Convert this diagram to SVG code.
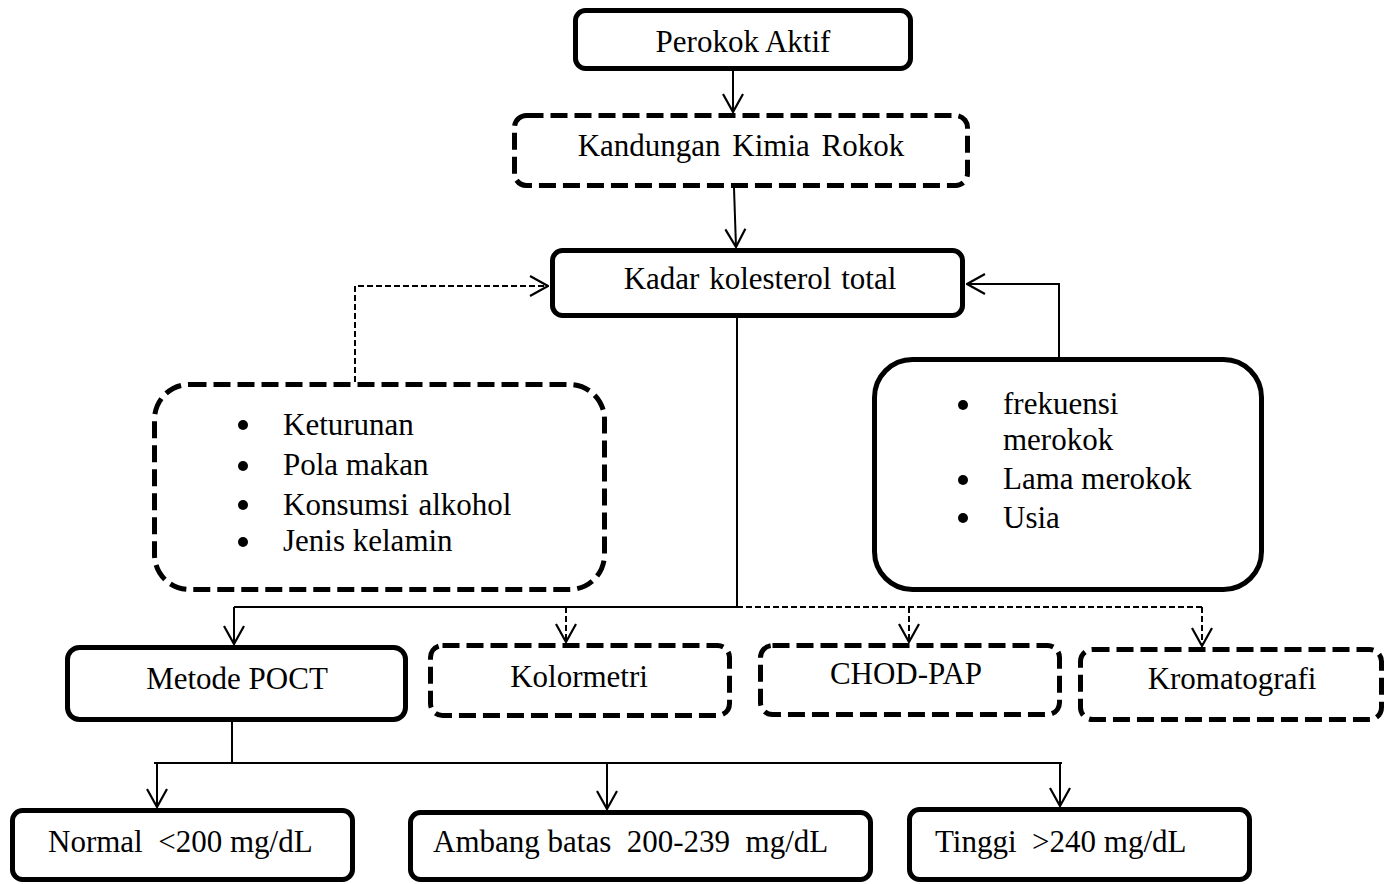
<svg xmlns="http://www.w3.org/2000/svg" width="1393" height="884" viewBox="0 0 1393 884">
<style>
  .box{fill:#fff;stroke:#000;stroke-width:5}
  .dbox{fill:#fff;stroke:#000;stroke-width:5;stroke-dasharray:17 7}
  .ln{fill:none;stroke:#000;stroke-width:2}
  .dln{fill:none;stroke:#000;stroke-width:2;stroke-dasharray:6 3}
  text{font-family:"Liberation Serif","Times New Roman",serif;font-size:31px;fill:#000}
  .c{text-anchor:middle}
</style>
<defs>
  <marker id="arr" viewBox="0 0 20 24" refX="19" refY="12" markerWidth="20" markerHeight="24" markerUnits="userSpaceOnUse" orient="auto">
    <path d="M1,2 L19,12 L1,22" fill="none" stroke="#000" stroke-width="2.2"/>
  </marker>
</defs>
<rect width="1393" height="884" fill="#fff"/>
<g id="connectors">
  <path class="ln" d="M733,71 V112" marker-end="url(#arr)"/>
  <path class="ln" d="M734,188 L736,247" marker-end="url(#arr)"/>
  <path class="dln" d="M355,382 V286 H548" marker-end="url(#arr)"/>
  <path class="ln" d="M1059,357 V284 H967" marker-end="url(#arr)"/>
  <path class="ln" d="M737,318 V607 M234,607 H737"/>
  <path class="dln" d="M737,607 H1202"/>
  <path class="ln" d="M234,607 V644" marker-end="url(#arr)"/>
  <path class="dln" d="M566,607 V642" marker-end="url(#arr)"/>
  <path class="dln" d="M909,607 V642" marker-end="url(#arr)"/>
  <path class="dln" d="M1202,607 V646" marker-end="url(#arr)"/>
  <path class="ln" d="M232,722 V763 M154,763 H1062"/>
  <path class="ln" d="M157,763 V807" marker-end="url(#arr)"/>
  <path class="ln" d="M607,763 V809" marker-end="url(#arr)"/>
  <path class="ln" d="M1060,763 V806" marker-end="url(#arr)"/>
</g>
<g id="perokok-aktif">
  <rect class="box" x="575.5" y="10.5" width="335" height="58" rx="10"/>
  <text class="c" x="743" y="52">Perokok Aktif</text>
</g>
<g id="kandungan-kimia">
  <rect class="dbox" x="514.5" y="115.5" width="453" height="70" rx="12"/>
  <text class="c" x="741" y="156" word-spacing="4">Kandungan Kimia Rokok</text>
</g>
<g id="kadar-kolesterol">
  <rect class="box" x="552.5" y="250.5" width="410" height="65" rx="10"/>
  <text class="c" x="760" y="289" word-spacing="2">Kadar kolesterol total</text>
</g>
<g id="faktor-kiri">
  <rect class="dbox" x="154.5" y="384.5" width="450" height="205" rx="35"/>
  <circle cx="243" cy="425" r="5"/>
  <circle cx="243" cy="466" r="5"/>
  <circle cx="243" cy="505" r="5"/>
  <circle cx="243" cy="542" r="5"/>
  <text x="283" y="435">Keturunan</text>
  <text x="283" y="475">Pola makan</text>
  <text x="283" y="515" word-spacing="2">Konsumsi alkohol</text>
  <text x="283" y="551">Jenis kelamin</text>
</g>
<g id="faktor-kanan">
  <rect class="box" x="874.5" y="359.5" width="387" height="230" rx="38"/>
  <circle cx="963" cy="405" r="5"/>
  <circle cx="963" cy="480" r="5"/>
  <circle cx="963" cy="518" r="5"/>
  <text x="1003" y="414">frekuensi</text>
  <text x="1003" y="450">merokok</text>
  <text x="1003" y="489">Lama merokok</text>
  <text x="1003" y="528">Usia</text>
</g>
<g id="metode-poct">
  <rect class="box" x="67.5" y="647.5" width="338" height="72" rx="12"/>
  <text class="c" x="237" y="689">Metode POCT</text>
</g>
<g id="kolormetri">
  <rect class="dbox" x="430.5" y="645.5" width="299" height="70" rx="12"/>
  <text class="c" x="579" y="687">Kolormetri</text>
</g>
<g id="chod-pap">
  <rect class="dbox" x="760.5" y="645.5" width="299" height="69" rx="12"/>
  <text class="c" x="906" y="684">CHOD-PAP</text>
</g>
<g id="kromatografi">
  <rect class="dbox" x="1080.5" y="649.5" width="301" height="70" rx="12"/>
  <text class="c" x="1232" y="689">Kromatografi</text>
</g>
<g id="normal">
  <rect class="box" x="12.5" y="810.5" width="340" height="69" rx="10"/>
  <text x="48" y="852" xml:space="preserve">Normal  &lt;200 mg/dL</text>
</g>
<g id="ambang-batas">
  <rect class="box" x="410.5" y="812.5" width="460" height="67" rx="10"/>
  <text x="433" y="852" xml:space="preserve">Ambang batas  200-239  mg/dL</text>
</g>
<g id="tinggi">
  <rect class="box" x="909.5" y="809.5" width="340" height="70" rx="10"/>
  <text x="935" y="852" xml:space="preserve">Tinggi  &gt;240 mg/dL</text>
</g>
</svg>
